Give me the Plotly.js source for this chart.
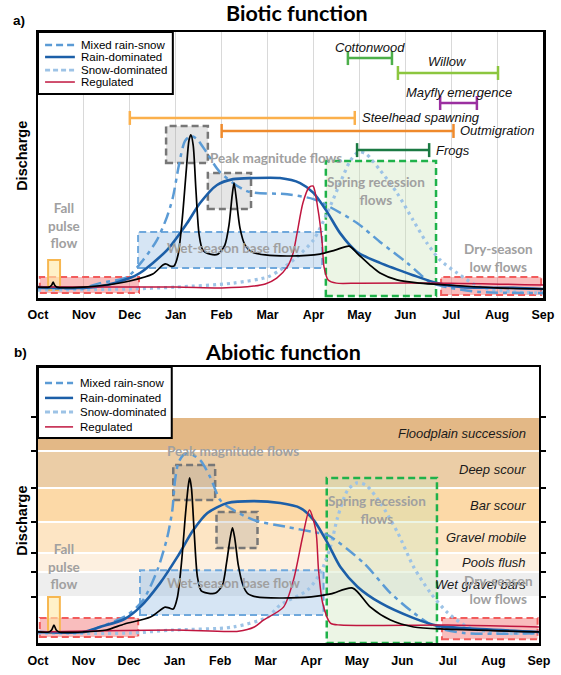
<!DOCTYPE html>
<html><head><meta charset="utf-8">
<script src="https://cdn.plot.ly/plotly-3.0.1.min.js"></script>
<style>html,body{margin:0;padding:0;background:#fff}#chart{width:561px;height:675px}</style>
</head><body><div id="chart"></div>
<script>
// ---------- DATA ----------
const months = ['Oct','Nov','Dec','Jan','Feb','Mar','Apr','May','Jun','Jul','Aug','Sep'];
const monthPos = [0,1,2,3,4,5,6,7,8,9,10,11];

// Panel a (Biotic) hydrographs: month position (Oct = 0), relative discharge (0-100)
const blackA_m = [0,0.24,0.3,0.33,0.36,0.41,1.0,1.5,2.0,2.5,2.72,2.79,2.88,2.96,3.05,3.14,3.23,3.29,3.33,3.38,3.44,3.51,3.59,3.75,3.92,4.07,4.16,4.23,4.27,4.31,4.40,4.51,4.66,4.95,5.49,6.14,6.47,6.78,6.97,7.23,7.45,7.82,8.32,8.91,10.0,11];
const blackA_q = [4.1,4.1,4.9,6.0,4.9,4.1,4.1,4.9,6.4,9.0,12.4,12.8,12.0,12.0,16.2,29.3,48.1,59.4,61.3,57.5,40.6,23.7,18.0,16.5,16.5,19.9,27.4,38.7,43.2,38.7,26.3,19.9,17.3,16.2,15.8,16.5,18.0,19.5,16.5,12.4,9.4,6.8,5.6,4.9,3.8,3.4];
const rainA_m = [0,1.0,1.5,2.0,2.22,2.81,3.25,3.53,3.9,4.25,4.68,5.27,5.71,6.0,6.3,6.58,6.95,7.45,8.17,8.69,9.26,10.35,11];
const rainA_q = [4.1,3.8,4.9,7.5,9.4,18.0,28.2,35.7,42.5,44.7,45.1,45.1,43.2,39.5,32.3,24.4,17.3,13.2,8.6,5.6,4.1,3.8,3.4];
const mixedA_m = [0,1.0,1.35,1.94,2.29,2.59,2.81,2.94,3.07,3.2,3.33,3.46,3.68,3.96,4.55,5.43,6.0,6.36,6.95,7.45,8.04,8.54,8.91,9.6,11];
const mixedA_q = [3.8,3.8,5.6,7.9,14.3,21.8,30.5,38.0,50.0,59.0,60.9,59.8,54.5,47.4,40.2,39.0,37.2,34.2,28.2,21.1,13.2,6.0,4.1,2.3,1.9];
const snowA_m = [0,2.0,3.0,4.25,5.0,5.27,5.64,6.0,6.3,6.58,6.8,6.98,7.15,7.45,7.82,8.17,8.47,8.76,9.13,9.63,10.35,11];
const snowA_q = [3.0,3.4,4.1,5.6,7.9,10.5,15.4,21.8,32.0,43.2,51.5,54.9,54.1,48.1,39.5,29.3,20.7,14.3,9.4,4.1,2.3,1.9];
const regA_m = [0,3.0,4.0,4.7,4.95,5.2,5.43,5.55,5.64,5.77,5.9,5.99,6.1,6.19,6.23,6.32,6.5,7.0,9.0,11];
const regA_q = [4.1,4.1,3.8,4.5,5.3,7.5,11.7,16.5,24.1,35.7,41.5,42.1,33.1,20.7,11.7,6.8,5.6,5.6,5.6,4.9];

// Panel b (Abiotic) hydrographs
const blackB_m = [0,0.24,0.3,0.35,0.4,0.46,1.0,1.5,1.9,2.47,2.79,2.88,2.97,3.06,3.15,3.24,3.3,3.33,3.37,3.43,3.5,3.58,3.72,3.9,4.05,4.14,4.22,4.27,4.32,4.4,4.5,4.6,4.8,5.3,6.0,6.43,6.91,7.3,7.74,8.25,8.98,11];
const blackB_q = [4.0,4.0,4.7,6.5,4.7,4.0,4.0,4.7,6.9,9.4,13.0,12.7,12.3,16.5,29,47,57,59.8,56,40,24,19,18.1,18.1,21,29,38,41.7,38,28,21,18,16.7,16.3,16.7,17.8,19.9,13.0,8.3,5.8,5.0,4.0];
const rainB_m = [0,1.0,1.36,1.9,2.24,2.68,3.06,3.41,3.72,4.16,4.73,5.32,5.76,6.05,6.36,6.64,7.02,7.52,8.25,8.78,9.35,11];
const rainB_q = [4.0,4.0,5.8,8.7,13.0,21.7,31.2,40.9,47.1,50.7,51.4,50.7,48.9,44.6,36.2,27.5,20.3,14.5,9.0,6.2,5.4,4.0];
const mixedB_m = [0,1.0,1.36,1.96,2.31,2.62,2.84,2.95,3.01,3.08,3.19,3.3,3.56,3.78,4.0,4.22,4.73,5.48,6.05,6.36,7.15,7.74,8.25,8.73,9.35,11];
const mixedB_q = [4.0,4.0,5.8,10.1,15.6,26.4,38.4,48.2,59.1,65.2,68.1,68.8,66.3,60.1,51.8,48.9,44.6,42.0,40.2,39.1,29.0,18.1,10.9,5.8,3.6,3.6];
const snowB_m = [0,2.0,2.97,4.29,5.04,5.32,5.92,6.2,6.42,6.58,6.8,7.0,7.2,7.52,7.9,8.25,8.62,9.0,9.44,10.1,11];
const snowB_q = [3.6,3.6,4.7,5.8,9.4,13.8,19.2,25.4,34.8,45.6,55.4,58.0,57.2,50.7,39.9,27.5,18.1,10.9,5.8,3.6,3.6];
const regB_m = [0,3.0,4.4,4.75,4.95,5.39,5.61,5.81,5.96,6.1,6.16,6.25,6.42,6.64,9.0,11];
const regB_q = [4.0,4.7,4.3,5.8,8.3,13.0,22.8,38.4,48.2,40.9,26.4,14.5,7.2,6.5,6.5,5.8];

// Biotic timing windows (panel a)
const rangeNames = ['Cottonwood','Willow','Mayfly emergence','Steelhead spawning','Outmigration','Frogs'];
const rangeStart = [6.75,7.84,8.76,2.0,4.0,6.95];
const rangeEnd   = [7.71,10.02,9.56,6.9,9.05,8.52];
const rangeLevel = [90.2,84.6,73.3,67.7,62.8,55.6];

// Abiotic discharge thresholds (panel b)
const bandEdges = [16.7,25.7,32.6,43.8,56.2,69.6,81.9];
const bandNames = ['Wet gravel bars','Pools flush','Gravel mobile','Bar scour','Deep scour','Floodplain succession'];

const seriesNames = ['Mixed rain-snow','Rain-dominated','Snow-dominated','Regulated'];

// ---------- STYLES ----------
const C = {mixed:'#5b9bd5', rain:'#1c5fa8', snow:'#9dc3e6', reg:'#c0163f', black:'#000000'};
const rangeColors = ['#4daf4a','#8cc63f','#9b2fa0','#fbb04c','#ef8a2c','#1b7a43'];
const rangeLabelPos = ['above','above','above','right','right','right'];
const bandColors = ['#eeeeee','#fdf0e0','#fde5c4','#fcd9a7','#ebcda6','#e3b886'];

const boxStyle = {
  red:  {fill:'rgba(240,90,90,0.40)', line:'#f25c5c', dash:'7px,4px', w:2},
  fall: {fill:'rgba(255,233,170,0.65)', line:'#f7b750', dash:'solid', w:2},
  blue: {fill:'rgba(120,170,220,0.30)', line:'#6fa8dc', dash:'7px,4px', w:2},
  gray: {fill:'rgba(150,150,150,0.25)', line:'#777777', dash:'7px,4px', w:2.5},
  green:{fill:'rgba(200,225,180,0.35)', line:'#1fb24a', dash:'7px,4px', w:2.5}
};
const boxesA = [
  {k:'red', x:[0.04,2.2], q:[1.9,7.9]},
  {k:'red', x:[8.78,10.96], q:[1.1,7.9]},
  {k:'fall', x:[0.22,0.48], q:[3.0,14.3]},
  {k:'blue', x:[2.18,6.19], q:[11.3,24.8]},
  {k:'gray', x:[2.79,3.70], q:[50.8,64.7]},
  {k:'gray', x:[3.70,4.64], q:[33.5,47.0]},
  {k:'green', x:[6.27,8.67], q:[0.8,51.5]}
];
const boxesB = [
  {k:'red', x:[0.04,2.2], q:[2.2,9.1]},
  {k:'red', x:[8.87,10.97], q:[1.4,9.1]},
  {k:'fall', x:[0.22,0.48], q:[3.6,16.7]},
  {k:'blue', x:[2.24,6.27], q:[10.1,26.4]},
  {k:'gray', x:[2.97,3.89], q:[51.8,64.5]},
  {k:'gray', x:[3.92,4.82], q:[34.4,47.5]},
  {k:'green', x:[6.34,8.76], q:[0.0,59.8]}
];
const flowLabelsA = [
  {t:'Fall<br>pulse<br>flow', x:0.57, q:27.1},
  {t:'Peak magnitude flows', x:5.19, q:52.6},
  {t:'Wet-season base flow', x:4.25, q:18.8},
  {t:'Spring recession<br>flows', x:7.36, q:40.2},
  {t:'Dry-season<br>low flows', x:10.02, q:15.0}
];
const flowLabelsB = [
  {t:'Fall<br>pulse<br>flow', x:0.57, q:27.9},
  {t:'Peak magnitude flows', x:4.29, q:69.6},
  {t:'Wet-season base flow', x:4.29, q:21.7},
  {t:'Spring recession<br>flows', x:7.44, q:48.2},
  {t:'Dry-season<br>low flows', x:10.12, q:19.2}
];

// ---------- BUILD ----------
const SM = 0.75;
function line(xs, ys, color, width, dash, xa, ya) {
  return {x:xs, y:ys, xaxis:xa, yaxis:ya, type:'scatter', mode:'lines', showlegend:false, hoverinfo:'skip',
          line:{color:color, width:width, dash:dash, shape:'spline', smoothing:SM}};
}
const traces = [];
function panelTraces(d, xa, ya) {
  traces.push(line(d.snow[0], d.snow[1], C.snow, 3.2, '3px,4px', xa, ya));
  traces.push(line(d.mixed[0], d.mixed[1], C.mixed, 2.5, '12px,5px,4px,5px', xa, ya));
  traces.push(line(d.rain[0], d.rain[1], C.rain, 2.6, 'solid', xa, ya));
  traces.push(line(d.reg[0], d.reg[1], C.reg, 1.5, 'solid', xa, ya));
  traces.push(line(d.black[0], d.black[1], C.black, 1.7, 'solid', xa, ya));
}
panelTraces({snow:[snowA_m,snowA_q], mixed:[mixedA_m,mixedA_q], rain:[rainA_m,rainA_q], reg:[regA_m,regA_q], black:[blackA_m,blackA_q]}, 'x', 'y');
panelTraces({snow:[snowB_m,snowB_q], mixed:[mixedB_m,mixedB_q], rain:[rainB_m,rainB_q], reg:[regB_m,regB_q], black:[blackB_m,blackB_q]}, 'x2', 'y2');

// timing bars
rangeNames.forEach((n, i) => {
  traces.push({x:[rangeStart[i], rangeEnd[i]], y:[rangeLevel[i], rangeLevel[i]], xaxis:'x', yaxis:'y',
    type:'scatter', mode:'lines+markers', showlegend:false, hoverinfo:'skip',
    line:{color:rangeColors[i], width:2.5},
    marker:{symbol:'line-ns-open', size:10, line:{color:rangeColors[i], width:2.5}}});
});

const shapes = [];
const annotations = [];

// bands panel b
for (let i = 0; i < bandNames.length; i++) {
  shapes.push({type:'rect', xref:'x2 domain', yref:'y2', x0:0, x1:1, y0:bandEdges[i], y1:bandEdges[i+1],
    fillcolor:bandColors[i], line:{width:0}, layer:'below'});
  annotations.push({text:'<i>'+bandNames[i]+'</i>', xref:'x2', yref:'y2', x:10.76, y:(bandEdges[i]+bandEdges[i+1])/2,
    xanchor:'right', yanchor:'middle', showarrow:false,
    font:{family:'Liberation Sans, Arial, sans-serif', size:13, color:'#1a1a1a'}});
}

function addBoxes(list, xa, ya) {
  list.forEach(b => {
    const s = boxStyle[b.k];
    shapes.push({type:'rect', xref:xa, yref:ya, x0:b.x[0], x1:b.x[1], y0:b.q[0], y1:b.q[1],
      fillcolor:s.fill, line:{color:s.line, width:s.w, dash:s.dash}, layer:'between'});
  });
}
addBoxes(boxesA, 'x', 'y');
addBoxes(boxesB, 'x2', 'y2');

function addFlowLabels(list, xa, ya) {
  list.forEach(l => annotations.push({text:l.t, xref:xa, yref:ya, x:l.x, y:l.q, showarrow:false,
    xanchor:'center', yanchor:'middle', align:'center',
    font:{family:'Lato, Open Sans, sans-serif', size:13.5, color:'#a0a0a0', weight:'bold'}}));
}
addFlowLabels(flowLabelsA, 'x', 'y');
addFlowLabels(flowLabelsB, 'x2', 'y2');

// timing labels
rangeNames.forEach((n, i) => {
  const above = rangeLabelPos[i] === 'above';
  annotations.push({text:'<i>'+n+'</i>', xref:'x', yref:'y',
    x: above ? (rangeStart[i]+rangeEnd[i])/2 : rangeEnd[i], y: rangeLevel[i],
    xanchor: above ? 'center' : 'left', yanchor:'middle', yshift: above ? 11 : 0, xshift: above ? 0 : 5,
    showarrow:false, font:{family:'Liberation Sans, Arial, sans-serif', size:13, color:'#111'}});
});

// legends (drawn inside each panel)
const legStyles = [
  {c:C.mixed, w:2.5, d:'7px,4px'},
  {c:C.rain, w:2.5, d:'solid'},
  {c:C.snow, w:2.8, d:'5px,3px'},
  {c:C.reg, w:1.5, d:'solid'}
];
function addLegend(xa, ya, box, rows, x0, x1, xt) {
  shapes.push({type:'rect', xref:xa+' domain', yref:ya+' domain', x0:box[0], x1:box[1], y0:box[2], y1:box[3],
    fillcolor:'#ffffff', line:{color:'#000', width:2}, layer:'above'});
  seriesNames.forEach((n, i) => {
    const s = legStyles[i];
    shapes.push({type:'line', xref:xa+' domain', yref:ya+' domain', x0:x0, x1:x1, y0:rows[i], y1:rows[i],
      line:{color:s.c, width:s.w, dash:s.d}, layer:'above'});
    annotations.push({text:n, xref:xa+' domain', yref:ya+' domain', x:xt, y:rows[i], xanchor:'left', yanchor:'middle',
      showarrow:false, font:{family:'Liberation Sans, Arial, sans-serif', size:11.5, color:'#000'}});
  });
}
addLegend('x', 'y', [0, 0.267, 0.767, 1], [0.951, 0.906, 0.857, 0.812], 0.014, 0.073, 0.081);
addLegend('x2', 'y2', [0, 0.267, 0.743, 1], [0.942, 0.888, 0.837, 0.783], 0.014, 0.07, 0.08);

// titles and axis titles
const tf = {family:'Lato, Open Sans, sans-serif', size:21.5, color:'#000', weight:'bold'};
annotations.push({text:'Biotic function', xref:'paper', yref:'paper', x:0.513, y:1.031, showarrow:false, xanchor:'center', yanchor:'middle', font:tf});
annotations.push({text:'Abiotic function', xref:'paper', yref:'paper', x:0.485, y:0.476, showarrow:false, xanchor:'center', yanchor:'middle', font:tf});
const pf = {family:'Liberation Sans, Arial, sans-serif', size:13.5, color:'#000', weight:'bold'};
annotations.push({text:'a)', xref:'paper', yref:'paper', x:-0.038, y:1.0196, showarrow:false, xanchor:'center', yanchor:'middle', font:pf});
annotations.push({text:'b)', xref:'paper', yref:'paper', x:-0.034, y:0.476, showarrow:false, xanchor:'center', yanchor:'middle', font:pf});
const df = {family:'Liberation Sans, Arial, sans-serif', size:14.5, color:'#000', weight:'bold'};
annotations.push({text:'Discharge', xref:'paper', yref:'paper', x:-0.032, y:0.797, textangle:-90, showarrow:false, xanchor:'center', yanchor:'middle', font:df});
annotations.push({text:'Discharge', xref:'paper', yref:'paper', x:-0.032, y:0.2, textangle:-90, showarrow:false, xanchor:'center', yanchor:'middle', font:df});

const tickFont = {family:'Liberation Sans, Arial, sans-serif', size:12.5, color:'#000', weight:'bold'};
const layout = {
  width:561, height:675, margin:{l:38, r:18, t:32, b:32, autoexpand:false},
  paper_bgcolor:'#fff', plot_bgcolor:'#fff', showlegend:false,
  xaxis:{domain:[0,1], anchor:'y', range:[0,11], tickvals:monthPos, ticktext:months, ticks:'',
    showgrid:true, gridcolor:'#d9d9d9', gridwidth:1, zeroline:false, showline:true, linecolor:'#000', linewidth:2.5,
    mirror:true, tickfont:tickFont, ticklabelstandoff:3, automargin:false, fixedrange:true},
  yaxis:{domain:[0.5646,1], anchor:'x', range:[0,100], showticklabels:false, ticks:'', showgrid:false, zeroline:false,
    showline:true, linecolor:'#000', linewidth:2.5, mirror:true, automargin:false, fixedrange:true},
  xaxis2:{domain:[0,0.992], anchor:'y2', range:[0,11], tickvals:monthPos, ticktext:months, ticks:'',
    showgrid:false, zeroline:false, showline:true, linecolor:'#000', linewidth:2.5,
    mirror:true, tickfont:tickFont, ticklabelstandoff:4, automargin:false, fixedrange:true},
  yaxis2:{domain:[0,0.4517], anchor:'x2', range:[0,100], showticklabels:false, tickvals:bandEdges, ticks:'outside',
    ticklen:5, tickwidth:1.5, tickcolor:'#000', showgrid:true, gridcolor:'#ffffff', gridwidth:1.5, zeroline:false,
    showline:true, linecolor:'#000', linewidth:2.5, mirror:'allticks', automargin:false, fixedrange:true},
  shapes:shapes, annotations:annotations
};
Plotly.newPlot('chart', traces, layout, {staticPlot:true, displayModeBar:false});
</script></body></html>
